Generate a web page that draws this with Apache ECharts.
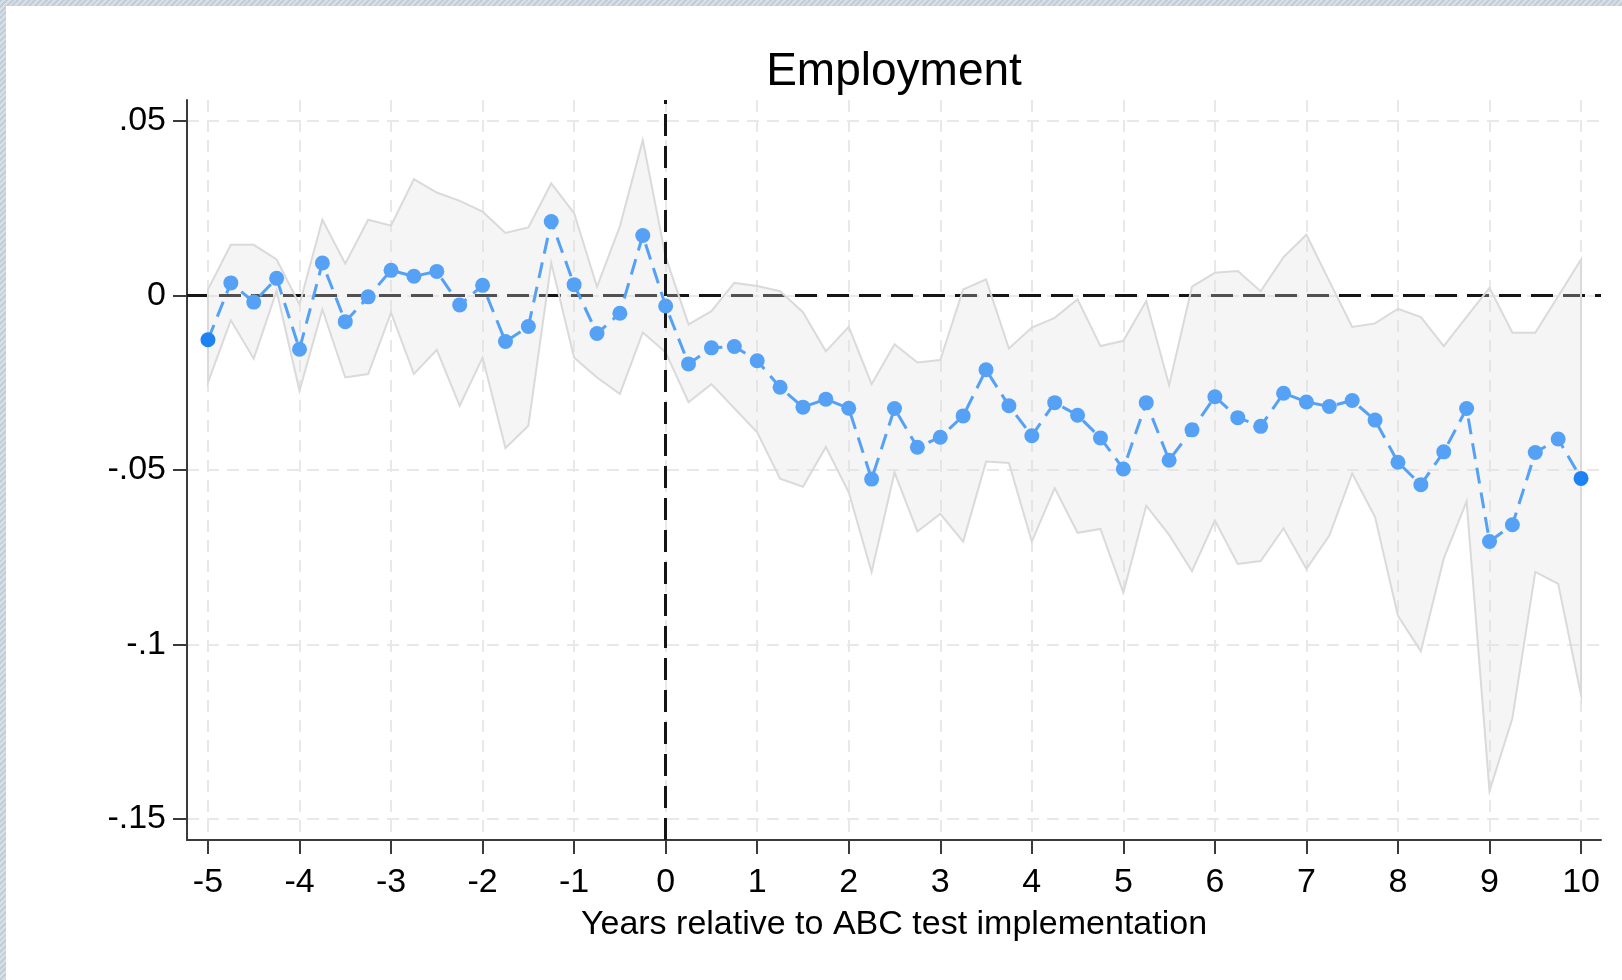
<!DOCTYPE html>
<html>
<head>
<meta charset="utf-8">
<title>Employment</title>
<script src="https://cdn.jsdelivr.net/npm/echarts@6/dist/echarts.min.js"></script>
<style>
  html, body {
    margin: 0; padding: 0; width: 1622px; height: 980px; overflow: hidden;
    background: repeating-linear-gradient(135deg, #c2cdd7 0 2px, #d7dfe7 2px 4px);
  }
  #chart {
    position: absolute; left: 6px; top: 6px; width: 1616px; height: 974px; background: #fff;
  }
</style>
</head>
<body>
<div id="chart"></div>
<script>
// Event time in years (quarterly steps) relative to implementation
const eventTime = [
  -5, -4.75, -4.5, -4.25, -4, -3.75, -3.5, -3.25, -3, -2.75, -2.5, -2.25,
  -2, -1.75, -1.5, -1.25, -1, -0.75, -0.5, -0.25,
  0, 0.25, 0.5, 0.75, 1, 1.25, 1.5, 1.75, 2, 2.25, 2.5, 2.75,
  3, 3.25, 3.5, 3.75, 4, 4.25, 4.5, 4.75, 5, 5.25, 5.5, 5.75,
  6, 6.25, 6.5, 6.75, 7, 7.25, 7.5, 7.75, 8, 8.25, 8.5, 8.75,
  9, 9.25, 9.5, 9.75, 10
];

// Point estimates
const coef = [
  -0.0127, 0.0036, -0.0019, 0.0049, -0.0154, 0.0093, -0.0075, -0.0004, 0.0072, 0.0055, 0.0069, -0.0027,
  0.0029, -0.0132, -0.0089, 0.0212, 0.0031, -0.0109, -0.0051, 0.0172,
  -0.0030, -0.0196, -0.0150, -0.0146, -0.0187, -0.0263, -0.0320, -0.0297, -0.0323, -0.0526, -0.0324, -0.0435,
  -0.0406, -0.0345, -0.0213, -0.0316, -0.0402, -0.0307, -0.0343, -0.0408, -0.0497, -0.0307, -0.0472, -0.0385,
  -0.0290, -0.0350, -0.0375, -0.0280, -0.0305, -0.0318, -0.0301, -0.0357, -0.0478, -0.0542, -0.0448, -0.0324,
  -0.0705, -0.0657, -0.0450, -0.0411, -0.0524
];

// Upper bound of the confidence interval
const ciUpper = [
  0.0017, 0.0145, 0.0145, 0.0103, -0.0026, 0.0217, 0.0091, 0.0217, 0.0200, 0.0333, 0.0295, 0.0271,
  0.0240, 0.0179, 0.0195, 0.0321, 0.0236, 0.0025, 0.0198, 0.0445,
  0.0110, -0.0083, -0.0045, 0.0036, 0.0027, 0.0012, -0.0048, -0.0160, -0.0090, -0.0254, -0.0140, -0.0192,
  -0.0185, 0.0017, 0.0046, -0.0152, -0.0092, -0.0064, -0.0011, -0.0145, -0.0130, -0.0016, -0.0257, 0.0025,
  0.0065, 0.0070, 0.0012, 0.0110, 0.0174, 0.0041, -0.0090, -0.0080, -0.0038, -0.0062, -0.0145, -0.0061,
  0.0022, -0.0107, -0.0107, -0.0002, 0.0103
];

// Lower bound of the confidence interval
const ciLower = [
  -0.0249, -0.0071, -0.0181, 0.0013, -0.0273, -0.0040, -0.0235, -0.0225, -0.0049, -0.0225, -0.0156, -0.0316,
  -0.0178, -0.0437, -0.0373, 0.0093, -0.0178, -0.0235, -0.0282, -0.0106,
  -0.0163, -0.0306, -0.0254, -0.0323, -0.0392, -0.0525, -0.0548, -0.0434, -0.0564, -0.0792, -0.0507, -0.0676,
  -0.0626, -0.0705, -0.0476, -0.0480, -0.0705, -0.0552, -0.0680, -0.0669, -0.0851, -0.0602, -0.0686, -0.0790,
  -0.0645, -0.0769, -0.0761, -0.0667, -0.0783, -0.0688, -0.0510, -0.0635, -0.0918, -0.1019, -0.0754, -0.0590,
  -0.1420, -0.1211, -0.0792, -0.0826, -0.1145
];

// Axis ticks
const xTicks = [-5, -4, -3, -2, -1, 0, 1, 2, 3, 4, 5, 6, 7, 8, 9, 10];
const yTicks = [0.05, 0, -0.05, -0.1, -0.15];
const yTickLabels = ['.05', '0', '-.05', '-.1', '-.15'];

const FONT = '"Liberation Sans", Arial, Helvetica, sans-serif';
const AXIS_COLOR = '#3a3a3a';
const POINT_COLOR = '#55a1f6';
const EDGE_POINT_COLOR = '#1f82f3';

const chart = echarts.init(document.getElementById('chart'), null, { renderer: 'canvas' });

const bandData = eventTime.map((t, i) => [t, ciLower[i], ciUpper[i]]);
const lastIdx = eventTime.length - 1;
const pointData = eventTime.map((t, i) =>
  (i === 0 || i === lastIdx)
    ? { value: [t, coef[i]], itemStyle: { color: EDGE_POINT_COLOR } }
    : [t, coef[i]]
);

// Confidence band: one closed polygon, upper edge forward then lower edge back
function renderBand(params, api) {
  if (params.dataIndex !== 0) return null;
  const upper = eventTime.map((t, i) => api.coord([t, ciUpper[i]]));
  const lower = eventTime.map((t, i) => api.coord([t, ciLower[i]])).reverse();
  return {
    type: 'polygon',
    shape: { points: upper.concat(lower) },
    style: {
      fill: 'rgba(222,222,222,0.3)',
      stroke: '#dadada',
      lineWidth: 2,
      lineJoin: 'miter'
    }
  };
}

const gridLine = { show: true, lineStyle: { color: '#e8e8e8', width: 2, type: [12, 8] } };

const option = {
  backgroundColor: '#ffffff',
  animation: false,
  title: {
    text: 'Employment',
    left: 888,
    top: 43,
    padding: 0,
    textAlign: 'center',
    textStyle: { fontFamily: FONT, fontSize: 46, fontWeight: 'normal', color: '#000' }
  },
  grid: { left: 181, right: 21, top: 94, bottom: 140, containLabel: false },
  xAxis: {
    type: 'value',
    min: -5.229,
    max: 10.218,
    name: 'Years relative to ABC test implementation',
    nameLocation: 'middle',
    nameGap: 68,
    nameTextStyle: { fontFamily: FONT, fontSize: 34, color: '#000' },
    axisLine: { show: true, onZero: false, lineStyle: { color: AXIS_COLOR, width: 2 } },
    axisTick: { show: true, length: 14, lineStyle: { color: AXIS_COLOR, width: 2 }, customValues: xTicks },
    axisLabel: {
      customValues: xTicks,
      margin: 26,
      fontFamily: FONT, fontSize: 34, color: '#000',
      formatter: v => String(v)
    },
    splitLine: gridLine
  },
  yAxis: {
    type: 'value',
    min: -0.156,
    max: 0.056,
    axisLine: { show: true, onZero: false, lineStyle: { color: AXIS_COLOR, width: 2 } },
    axisTick: { show: true, length: 14, lineStyle: { color: AXIS_COLOR, width: 2 }, customValues: yTicks },
    axisLabel: {
      customValues: yTicks,
      margin: 21,
      fontFamily: FONT, fontSize: 34, color: '#000',
      formatter: v => {
        const k = yTicks.findIndex(t => Math.abs(t - v) < 1e-9);
        return k >= 0 ? yTickLabels[k] : '';
      }
    },
    splitLine: gridLine
  },
  series: [
    {
      name: 'zero',
      type: 'line',
      data: [],
      z: 1,
      markLine: {
        silent: true,
        z: 1,
        symbol: 'none',
        label: { show: false },
        lineStyle: { color: '#151515', width: 3, type: [22, 10] },
        data: [{ yAxis: 0 }]
      }
    },
    {
      name: 'ci',
      type: 'custom',
      z: 2,
      renderItem: renderBand,
      encode: { x: 0, y: [1, 2] },
      data: bandData,
      silent: true
    },
    {
      name: 'event',
      type: 'line',
      data: [],
      z: 3,
      markLine: {
        silent: true,
        z: 3,
        symbol: 'none',
        label: { show: false },
        lineStyle: { color: '#151515', width: 3, type: [22, 10] },
        data: [{ xAxis: 0 }]
      }
    },
    {
      name: 'coef',
      type: 'line',
      z: 4,
      data: pointData,
      symbol: 'circle',
      symbolSize: 15,
      showSymbol: true,
      showAllSymbol: true,
      itemStyle: { color: POINT_COLOR },
      lineStyle: { color: POINT_COLOR, width: 3, type: [16, 9] },
      emphasis: { disabled: true }
    }
  ]
};

chart.setOption(option);
</script>
</body>
</html>
